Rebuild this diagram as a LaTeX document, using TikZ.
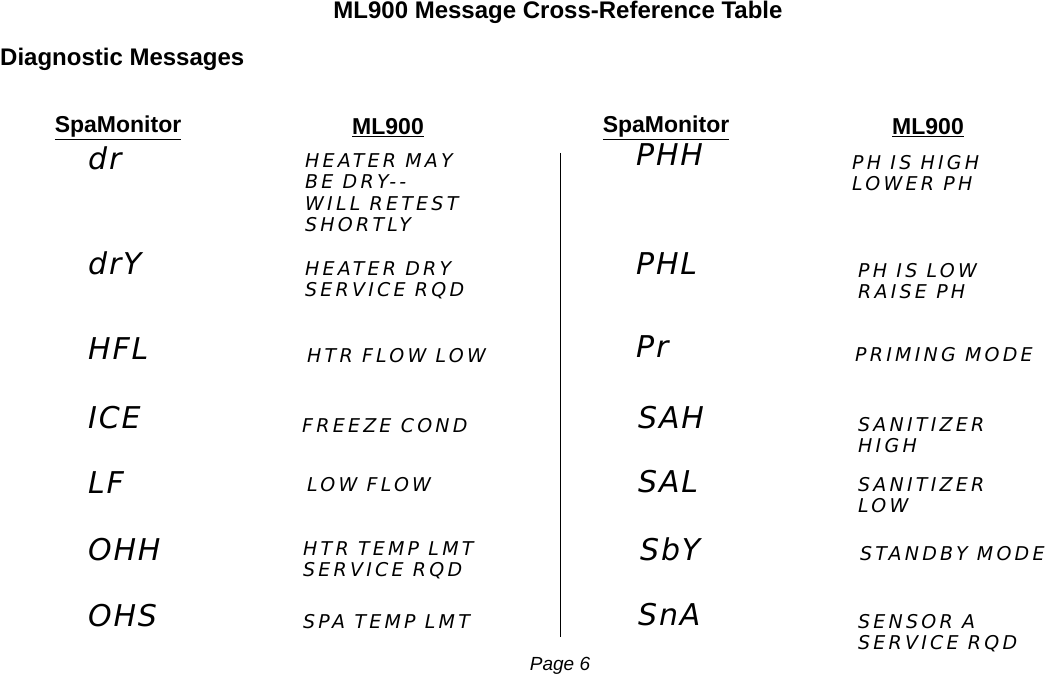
\documentclass[tikz,border=0pt]{standalone}
\usepackage{fontspec}
\setmainfont{Liberation Sans}
\newfontfamily\segfont[LetterSpace=17]{DejaVu Sans}
\newfontfamily\codefont[LetterSpace=6]{DejaVu Sans}
\begin{document}
\begin{tikzpicture}[x=1pt,y=-1pt,
  hd/.style={font=\bfseries\fontsize{24}{27}\selectfont},
  col/.style={font=\bfseries\fontsize{23}{26}\selectfont},
  code/.style={anchor=north west,inner sep=0,font=\codefont\itshape\fontsize{30}{30}\selectfont},
  msg/.style={anchor=north west,inner sep=0,align=left,font=\segfont\itshape\fontsize{19}{21.5}\selectfont}]
\useasboundingbox (0,0) rectangle (1048,679);
\node[hd] (t) at (558,12) {ML900 Message Cross-Reference Table};
\node[hd,anchor=west,inner sep=0] (d) at (0,59) {Diagnostic Messages};
\node[col] (h1) at (118,128) {\underline{SpaMonitor}};
\node[col] (h2) at (388,128) {\underline{ML900}};
\node[col] (h3) at (666,128) {\underline{SpaMonitor}};
\node[col] (h4) at (928,128) {\underline{ML900}};
\coordinate (v1) at (560,153); \coordinate (v2) at (560,637);
\draw[line width=1pt] (v1) -- (v2);
\node[font=\itshape\fontsize{19}{22}\selectfont] (p) at (560,666) {Page 6};
% left
\node[code] (c1) at (88,147) {dr};
\node[msg] (m1) at (305,153) {HEATER MAY\\BE DRY--\\WILL RETEST\\SHORTLY};
\node[code] (c2) at (88,252) {drY};
\node[msg] (m2) at (305,261) {HEATER DRY\\SERVICE RQD};
\node[code] (c3) at (88,337) {HFL};
\node[msg] (m3) at (307,348) {HTR FLOW LOW};
\node[code] (c4) at (88,406) {ICE};
\node[msg] (m4) at (302,418) {FREEZE COND};
\node[code] (c5) at (88,471) {LF};
\node[msg] (m5) at (307,477) {LOW FLOW};
\node[code] (c6) at (88,538) {OHH};
\node[msg] (m6) at (303,541) {HTR TEMP LMT\\SERVICE RQD};
\node[code] (c7) at (88,604) {OHS};
\node[msg] (m7) at (303,614) {SPA TEMP LMT};
% right
\node[code] (r1) at (636,143) {PHH};
\node[msg] (n1) at (852,155) {PH IS HIGH\\LOWER PH};
\node[code] (r2) at (636,252) {PHL};
\node[msg] (n2) at (858,263) {PH IS LOW\\RAISE PH};
\node[code] (r3) at (636,335) {Pr};
\node[msg] (n3) at (855,347) {PRIMING MODE};
\node[code] (r4) at (638,406) {SAH};
\node[msg] (n4) at (858,417) {SANITIZER\\HIGH};
\node[code] (r5) at (638,470) {SAL};
\node[msg] (n5) at (858,477) {SANITIZER\\LOW};
\node[code] (r6) at (640,538) {SbY};
\node[msg] (n6) at (860,546) {STANDBY MODE};
\node[code] (r7) at (638,603) {SnA};
\node[msg] (n7) at (858,614) {SENSOR A\\SERVICE RQD};
\end{tikzpicture}
\end{document}
